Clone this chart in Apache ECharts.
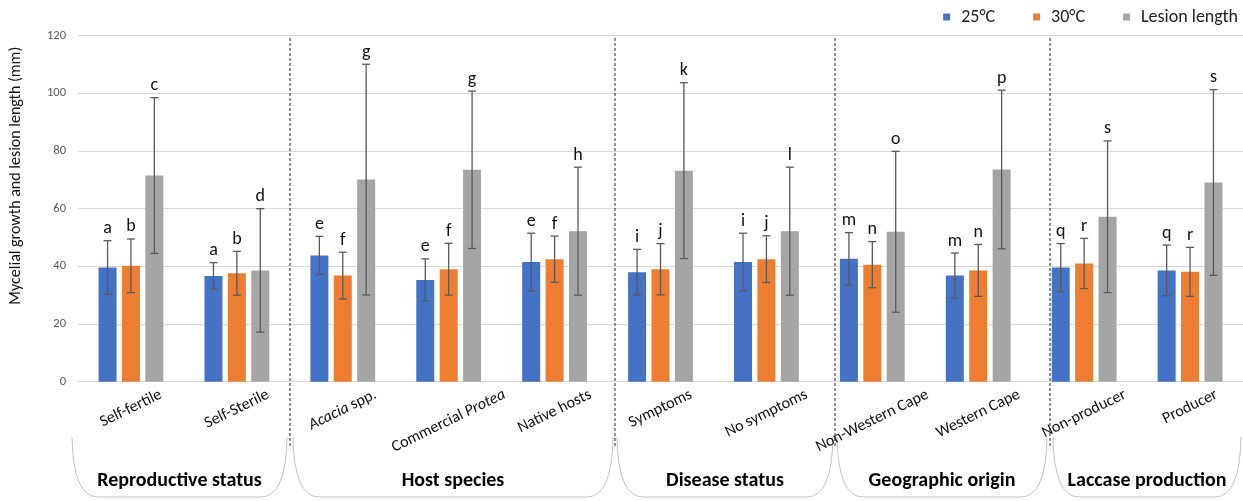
<!DOCTYPE html>
<html><head><meta charset="utf-8">
<script src="https://cdn.jsdelivr.net/npm/echarts@6/dist/echarts.min.js"></script>
<style>html,body{margin:0;padding:0;background:#fff}#c{width:1243px;height:501px}</style>
</head><body><div id="c"></div>
<script>
// ---- data ----
const categories = ['Self-fertile','Self-Sterile','Acacia spp.','Commercial Protea','Native hosts','Symptoms','No symptoms','Non-Western Cape','Western Cape','Non-producer','Producer'];
const categoryLabels = ['Self-fertile','Self-Sterile','{i|Acacia} spp.','Commercial {i|Protea}','Native hosts','Symptoms','No symptoms','Non-Western Cape','Western Cape','Non-producer','Producer'];
const groupNames = ['Reproductive status','Host species','Disease status','Geographic origin','Laccase production'];
const seriesNames = ['25°C','30°C','Lesion length'];
const mean25 = [39.6, 36.7, 43.8, 35.3, 41.5, 38.0, 41.5, 42.6, 36.8, 39.6, 38.6];
const sd25   = [9.3, 4.6, 6.6, 7.3, 10.0, 7.9, 10.0, 9.1, 7.8, 8.3, 8.8];
const mean30 = [40.2, 37.6, 36.8, 39.0, 42.5, 39.0, 42.5, 40.6, 38.6, 41.0, 38.1];
const sd30   = [9.3, 7.6, 8.1, 9.0, 8.0, 8.9, 8.1, 8.0, 9.0, 8.7, 8.5];
const meanL  = [71.5, 38.6, 70.1, 73.5, 52.2, 73.2, 52.2, 52.0, 73.6, 57.2, 69.1];
const sdL    = [27.0, 21.4, 40.0, 27.3, 22.2, 30.5, 22.2, 27.9, 27.5, 26.3, 32.2];
const letters25 = ['a','a','e','e','e','i','i','m','m','q','q'];
const letters30 = ['b','b','f','f','f','j','j','n','n','r','r'];
const lettersL  = ['c','d','g','g','h','k','l','o','p','s','s'];
const yMin = 0, yMax = 120, yStep = 20;

// ---- style ----
const FONT = 'Carlito, Lato, "Open Sans", sans-serif';
const colors = ['#4472C4','#ED7D31','#A5A5A5'];
const BAR_W = 18, BAR_GAP = 0.3;
const ANG = 26 * Math.PI / 180;
const means = [mean25, mean30, meanL], sds = [sd25, sd30, sdL], letters = [letters25, letters30, lettersL];

const chart = echarts.init(document.getElementById('c'), null, {renderer:'canvas'});

// measure label widths for centred rotated labels
const ctx = document.createElement('canvas').getContext('2d');
const LABEL_SIZE = 16;
function labelWidth(lbl){
  let w = 0;
  const re = /\{i\|([^}]*)\}|([^{]+)/g; let m;
  while((m = re.exec(lbl))){
    if(m[1] !== undefined){ ctx.font = 'italic ' + LABEL_SIZE + 'px ' + FONT; w += ctx.measureText(m[1]).width; }
    else { ctx.font = LABEL_SIZE + 'px ' + FONT; w += ctx.measureText(m[2]).width; }
  }
  return w;
}

const barSeries = seriesNames.map((n, k) => ({
  type:'bar', name:n, data: means[k], barWidth: BAR_W, barGap: (BAR_GAP*100)+'%',
  itemStyle:{color: colors[k]}, z: 2
}));

const errSeries = seriesNames.map((n, k) => ({
  type:'custom', name: n + '_err', clip:false, z: 5, silent:true,
  data: means[k].map((m, i) => [i, m, sds[k][i]]),
  encode:{x:0, y:1},
  renderItem(params, api){
    const i = api.value(0), m = api.value(1), s = api.value(2);
    const off = (k - 1) * BAR_W * (1 + BAR_GAP);
    const x = api.coord([i, m])[0] + off;
    const yt = api.coord([i, m + s])[1], yb = api.coord([i, m - s])[1];
    const st = {stroke:'#595959', lineWidth:1.3};
    return {type:'group', children:[
      {type:'line', shape:{x1:x, y1:yt, x2:x, y2:yb}, style:st},
      {type:'line', shape:{x1:x-4, y1:yt, x2:x+4, y2:yt}, style:st},
      {type:'line', shape:{x1:x-4, y1:yb, x2:x+4, y2:yb}, style:st},
      {type:'text', x:x, y:yt-12, style:{text: letters[k][params.dataIndex], align:'center', verticalAlign:'middle', font:'18px ' + FONT, fill:'#111'}}
    ]};
  }
}));

const labelSeries = {
  type:'custom', name:'labels', clip:false, silent:true, z: 5,
  data: categories.map((c, i) => [i, 0]),
  encode:{x:0, y:1},
  renderItem(params, api){
    const i = params.dataIndex;
    const p = api.coord([i, 0]);
    const L = labelWidth(categoryLabels[i]);
    const h = 16;
    const ext = L * Math.sin(ANG) + h * Math.cos(ANG);
    return {type:'text', x:p[0], y:p[1] + 5 + ext/2, rotation: ANG,
      style:{text: categoryLabels[i], align:'center', verticalAlign:'middle',
        font: LABEL_SIZE + 'px ' + FONT, fill:'#111',
        rich:{i:{fontStyle:'italic', fontSize: LABEL_SIZE, fontFamily: FONT, fill:'#111'}}}};
  }
};

// decorative group separators and brackets (layout elements)
const separators = [290, 615, 835, 1050];
const brackets = [[72,287],[293,613],[617,833],[837,1047],[1053,1241]];
const graphics = [];
separators.forEach(x => graphics.push({type:'line', shape:{x1:x, y1:38, x2:x, y2:448}, style:{stroke:'#222', lineWidth:1, lineDash:[3,2]}, z:10}));
brackets.forEach(([a,b], gi) => {
  const top = 437, bot = 497, r = 26, st = {stroke:'#c4c4c4', lineWidth:1, fill:null};
  graphics.push({type:'bezierCurve', shape:{x1:a, y1:top, cpx1:a+1, cpy1:bot, x2:a+r, y2:bot}, style:st});
  graphics.push({type:'line', shape:{x1:a+r, y1:bot, x2:b-r, y2:bot}, style:st});
  graphics.push({type:'bezierCurve', shape:{x1:b-r, y1:bot, cpx1:b-1, cpy1:bot, x2:b, y2:top}, style:st});
  graphics.push({type:'text', x:(a+b)/2, y:481, style:{text: groupNames[gi], align:'center', verticalAlign:'middle', font:'bold 20px ' + FONT, fill:'#000'}});
});

chart.setOption({
  animation:false,
  backgroundColor:'#fff',
  textStyle:{fontFamily: FONT},
  grid:{left:78, right:0, top:35.7, bottom:119.3},
  legend:{data: seriesNames, right:0, top:3, icon:'rect', itemWidth:7, itemHeight:7, itemGap:38,
    textStyle:{fontSize:18, color:'#222', padding:[0,0,0,6], fontFamily: FONT}},
  xAxis:{type:'category', data: categories, axisTick:{show:false}, axisLabel:{show:false},
    axisLine:{lineStyle:{color:'#d9d9d9', width:1}}},
  yAxis:{type:'value', min:yMin, max:yMax, interval:yStep,
    name:'Mycelial growth and lesion length (mm)', nameLocation:'middle', nameGap:54, nameRotate:90,
    nameTextStyle:{fontSize:16, color:'#111', padding:[0,0,0,66], fontFamily: FONT},
    axisLabel:{color:'#595959', fontSize:12.5, margin:12, fontFamily: FONT},
    axisLine:{show:false}, axisTick:{show:false},
    splitLine:{lineStyle:{color:'#d9d9d9', width:1}}},
  series:[...barSeries, ...errSeries, labelSeries],
  graphic: graphics
});
</script></body></html>
